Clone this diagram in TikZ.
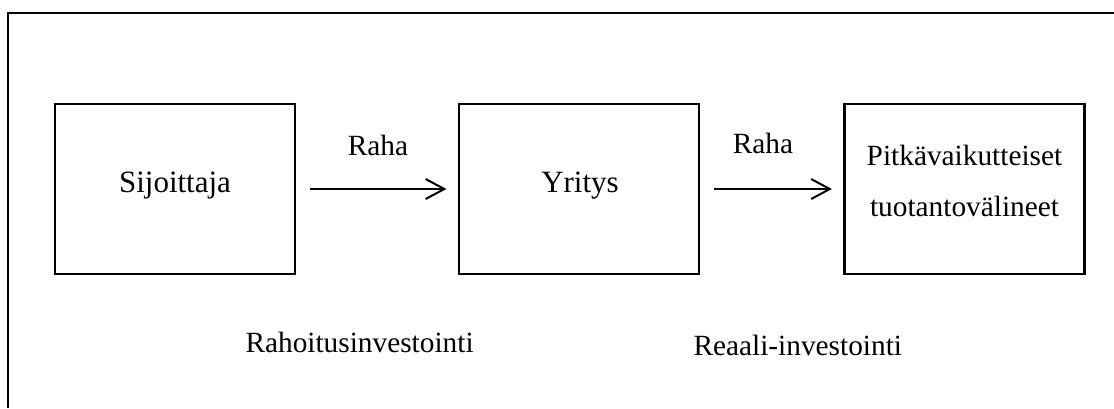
\documentclass[tikz,border=0pt]{standalone}
\usepackage{fontspec}
\setmainfont{Liberation Serif}
\usetikzlibrary{arrows.meta}

\tikzset{every picture/.style={line width=0.75pt}}
\tikzset{
  box/.style={draw, line width=1.65pt, minimum width=180pt, minimum height=127.5pt, inner sep=0pt},
  flow/.style={line width=1.5pt, -{Straight Barb[length=14pt,width=15pt,line width=1.5pt]}, shorten <=10.5pt, shorten >=8.6pt},
  bigtext/.style={font=\fontsize{23.25}{27}\selectfont, inner sep=0pt},
  smalltext/.style={font=\fontsize{22}{38.25}\selectfont, inner sep=0pt}
}

\begin{document}
\begin{tikzpicture}[x=0.75pt,y=0.75pt,yscale=-1,xscale=1]
\useasboundingbox (0,0) rectangle (1114,408);

%Shape: Frame (only top and left edge inside the picture)
\draw [line width=1.1pt] (1114,13) -- (8,13) -- (8,408) ;

%Shape: Rectangle
\node [box] (sij) at (175,189) {};
%Shape: Rectangle
\node [box] (yri) at (579,189) {};
%Shape: Rectangle
\node [box] (pit) at (964.5,189) {};

% Text Node
\node [bigtext] [anchor=base] (sijtext) at (175,192) {Sijoittaja};
% Text Node
\node [bigtext] [anchor=base] (yritext) at (580,192) {Yritys};
% Text Node
\node [smalltext] [anchor=base] [align=center] (pittext) at (964.5,216) {Pitkävaikutteiset\\tuotantovälineet};

%Straight Lines
\draw [flow] (sij.east) -- (yri.west) ;
%Straight Lines
\draw [flow] (yri.east) -- (pit.west) ;

% Text Node
\node [smalltext] [anchor=base] (raha1) at (378,155) {Raha};
% Text Node
\node [smalltext] [anchor=base] (raha2) at (763,153) {Raha};
% Text Node
\node [smalltext] [anchor=base west] (rahinv) at (245,352) {Rahoitusinvestointi};
% Text Node
\node [smalltext] [anchor=base west] (reainv) at (693,355) {Reaali-investointi};

\end{tikzpicture}
\end{document}
